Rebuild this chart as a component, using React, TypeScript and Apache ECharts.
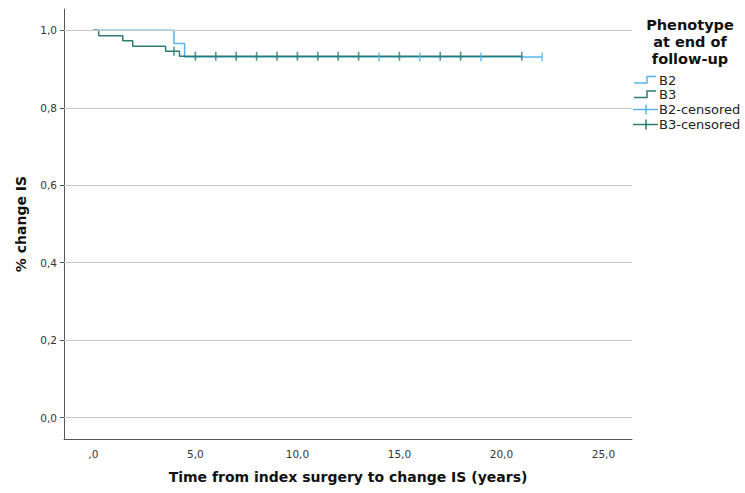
import React, { useEffect, useRef } from "react";
import * as echarts from "echarts";

// Kaplan–Meier step curves (time in years, cumulative proportion)
const b2Times = [0, 3.95, 4.47, 22];
const b2Surv = [1, 0.966, 0.931, 0.931];
const b3Times = [0, 0.26, 1.44, 1.93, 3.54, 4.22, 21];
const b3Surv = [1, 0.986, 0.973, 0.959, 0.946, 0.933, 0.933];

// Censoring times
const b2Censored = [14, 16, 19, 22];
const b3Censored = [3.95, 5, 6, 7, 8, 9, 10, 11, 12, 13, 15, 17, 18, 21];

const xTicks = [0, 5, 10, 15, 20, 25];
const yTicks = [0, 0.2, 0.4, 0.6, 0.8, 1.0];

const B2_COLOR = "#58b4e8";
const B3_COLOR = "#2b7b74";
const FONT = "DejaVu Sans";

// value of a step curve at time t
const levelAt = (times: number[], surv: number[], t: number) => {
  let v = surv[0];
  for (let i = 0; i < times.length; i++) if (times[i] <= t) v = surv[i];
  return v;
};

const fmtY = (v: number) => v.toFixed(1).replace(".", ",");
const fmtX = (v: number) => (v === 0 ? ",0" : v.toFixed(1).replace(".", ","));

export default function App() {
  const ref = useRef<HTMLDivElement>(null);

  useEffect(() => {
    if (!ref.current) return;
    const chart = echarts.init(ref.current, undefined, { renderer: "svg" });

    const legendRows = [80, 94.5, 109.5, 124.5];
    const stepIcon = (y: number, color: string) => ({
      type: "polyline",
      shape: { points: [[634, y + 3], [647, y + 3], [647, y - 3.5], [656, y - 3.5]] },
      style: { stroke: color, lineWidth: 1.5, fill: null },
    });
    const crossIcon = (y: number, color: string) => ({
      type: "group",
      children: [
        { type: "line", shape: { x1: 633, y1: y, x2: 658, y2: y }, style: { stroke: color, lineWidth: 1.5 } },
        { type: "line", shape: { x1: 646, y1: y - 5, x2: 646, y2: y + 5 }, style: { stroke: color, lineWidth: 1.5 } },
      ],
    });
    const legendText = (y: number, text: string) => ({
      type: "text",
      x: 659,
      y,
      style: { text, fill: "#222", font: `13px "${FONT}"`, textVerticalAlign: "middle", textAlign: "left" },
    });
    const titleText = (y: number, text: string) => ({
      type: "text",
      x: 690,
      y,
      style: {
        text,
        fill: "#111",
        font: `bold 14.5px "${FONT}"`,
        textVerticalAlign: "middle",
        textAlign: "center",
      },
    });

    chart.setOption({
      animation: false,
      backgroundColor: "#ffffff",
      textStyle: { fontFamily: FONT },
      grid: { left: 64, right: 113, top: 9, bottom: 54, containLabel: false },
      xAxis: {
        type: "value",
        min: -1.44,
        max: 26.4,
        name: "Time from index surgery to change IS (years)",
        nameLocation: "middle",
        nameGap: 31,
        nameTextStyle: { fontSize: 14, fontWeight: "bold", color: "#111", fontFamily: FONT },
        axisLine: { show: true, onZero: false, lineStyle: { color: "#555", width: 1 } },
        axisTick: { show: false },
        splitLine: { show: false },
        axisLabel: {
          customValues: xTicks,
          formatter: (v: number) => fmtX(v),
          fontSize: 10.5,
          color: "#333",
          margin: 9,
        },
      },
      yAxis: {
        type: "value",
        min: -0.055,
        max: 1.055,
        name: "% change IS",
        nameLocation: "middle",
        nameGap: 36,
        nameTextStyle: { fontSize: 14, fontWeight: "bold", color: "#111", fontFamily: FONT },
        axisLine: { show: true, onZero: false, lineStyle: { color: "#555", width: 1 } },
        axisTick: { show: true, customValues: yTicks, length: 4, lineStyle: { color: "#555" } },
        splitLine: { show: false },
        axisLabel: {
          customValues: yTicks,
          formatter: (v: number) => fmtY(v),
          fontSize: 10.5,
          color: "#333",
          margin: 7,
        },
      },
      series: [
        {
          // horizontal reference lines at each y tick
          type: "line",
          data: [],
          silent: true,
          z: 1,
          markLine: {
            silent: true,
            symbol: "none",
            label: { show: false },
            lineStyle: { color: "#c8c8c8", type: "solid", width: 1 },
            data: yTicks.map((v) => ({ yAxis: v })),
          },
        },
        {
          name: "B2",
          type: "line",
          step: "end",
          z: 3,
          showSymbol: false,
          lineStyle: { color: B2_COLOR, width: 1.5 },
          data: b2Times.map((t, i) => [t, b2Surv[i]]),
        },
        {
          name: "B3",
          type: "line",
          step: "end",
          z: 4,
          showSymbol: false,
          lineStyle: { color: B3_COLOR, width: 1.5 },
          data: b3Times.map((t, i) => [t, b3Surv[i]]),
        },
        {
          name: "B2-censored",
          type: "scatter",
          z: 5,
          symbol: "rect",
          symbolSize: [1.6, 9],
          itemStyle: { color: B2_COLOR },
          data: b2Censored.map((t) => [t, levelAt(b2Times, b2Surv, t)]),
        },
        {
          name: "B3-censored",
          type: "scatter",
          z: 6,
          symbol: "rect",
          symbolSize: [1.6, 9],
          itemStyle: { color: B3_COLOR },
          data: b3Censored.map((t) => [t, levelAt(b3Times, b3Surv, t)]),
        },
      ],
      graphic: [
        titleText(25, "Phenotype"),
        titleText(42, "at end of"),
        titleText(59, "follow-up"),
        stepIcon(legendRows[0], B2_COLOR),
        legendText(legendRows[0], "B2"),
        stepIcon(legendRows[1], B3_COLOR),
        legendText(legendRows[1], "B3"),
        crossIcon(legendRows[2], B2_COLOR),
        legendText(legendRows[2], "B2-censored"),
        crossIcon(legendRows[3], B3_COLOR),
        legendText(legendRows[3], "B3-censored"),
      ],
    });

    return () => chart.dispose();
  }, []);

  return (
    <div
      ref={ref}
      style={{ position: "fixed", left: 0, top: 0, width: 745, height: 493, background: "#fff" }}
    />
  );
}
